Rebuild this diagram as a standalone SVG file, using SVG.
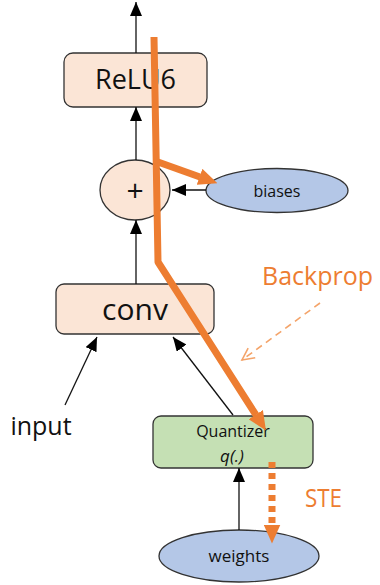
<svg xmlns="http://www.w3.org/2000/svg" width="380" height="585" viewBox="0 0 380 585">
<style>
.box{fill:#fbe5d6;stroke:#333;stroke-width:1.3}
.q{fill:#c5e0b4;stroke:#333;stroke-width:1.3}
.ell{fill:#b4c7e7;stroke:#333;stroke-width:1.3}
.t{font-family:"Open Sans","Noto Sans",sans-serif;fill:#111;text-anchor:middle}
.c{stroke:#111;stroke-width:1.3;fill:none}
.or{stroke:#ed7d31;stroke-width:7;fill:none;stroke-linejoin:round}
.ot{font-family:"Open Sans","Noto Sans",sans-serif;fill:#ed7d31}
</style>
<defs>
<marker id="ah" markerUnits="userSpaceOnUse" markerWidth="14" markerHeight="12" viewBox="0 0 14 12" refX="14" refY="6" orient="auto">
<path d="M0,0 L14,6 L0,12 z" fill="#000"/>
</marker>
<marker id="oh" markerUnits="userSpaceOnUse" markerWidth="19" markerHeight="17" viewBox="0 0 19 17" refX="0.5" refY="8.5" orient="auto">
<path d="M0,0 L19,8.5 L0,17 z" fill="#ed7d31"/>
</marker>
<marker id="vh" markerUnits="userSpaceOnUse" markerWidth="16" markerHeight="16" viewBox="0 0 16 16" refX="14" refY="8" orient="auto">
<path d="M2,2 L14,8 L2,14" fill="none" stroke="#f4a46a" stroke-width="1.6"/>
</marker>
</defs>
<g id="relu6"><rect class="box" x="64" y="53" width="143" height="54" rx="9"/><text class="t" x="135.5" y="89" font-size="27">ReLU6</text></g>
<g id="add"><ellipse class="box" cx="135" cy="190" rx="35" ry="30"/><text class="t" x="135" y="201" font-size="30">+</text></g>
<g id="biases"><ellipse class="ell" cx="277" cy="190.5" rx="71" ry="22"/><text class="t" x="277" y="197" font-size="16">biases</text></g>
<g id="conv"><rect class="box" x="56" y="284" width="158" height="50" rx="8"/><text class="t" x="135" y="320" font-size="30">conv</text></g>
<g id="input"><text class="t" x="41" y="435" font-size="25">input</text></g>
<g id="quantizer"><rect class="q" x="153" y="416" width="160" height="52" rx="8"/><text class="t" x="233" y="437" font-size="16">Quantizer</text><text class="t" x="232" y="462" font-size="17" font-style="italic">q(.)</text></g>
<g id="weights"><ellipse class="ell" cx="239" cy="556" rx="80" ry="26"/><text class="t" x="239" y="562" font-size="17">weights</text></g>
<g id="connectors">
<path class="c" d="M136,53 L136,2" marker-end="url(#ah)"/>
<path class="c" d="M136,160 L136,107" marker-end="url(#ah)"/>
<path class="c" d="M136,284 L136,220" marker-end="url(#ah)"/>
<path class="c" d="M206,190 L172,190" marker-end="url(#ah)"/>
<path class="c" d="M65,405 L97,337" marker-end="url(#ah)"/>
<path class="c" d="M233,415 L173,337" marker-end="url(#ah)"/>
<path class="c" d="M239,530 L239,468" marker-end="url(#ah)"/>
<path class="or" d="M154,37 L158,262 L256,415" marker-end="url(#oh)"/>
<path class="or" d="M158,162 L200,177" marker-end="url(#oh)"/>
<path class="or" d="M272,462 L272,525" stroke-dasharray="6 5" stroke-linejoin="miter" marker-end="url(#oh)"/>
<path d="M320,303 L242,360" stroke="#f4a46a" stroke-width="1.6" stroke-dasharray="7 5" fill="none" marker-end="url(#vh)"/>
</g>
<text class="ot" x="262" y="285" font-size="26" textLength="111" lengthAdjust="spacingAndGlyphs">Backprop</text>
<text class="ot" x="305" y="507" font-size="25" textLength="37" lengthAdjust="spacingAndGlyphs">STE</text>
</svg>
